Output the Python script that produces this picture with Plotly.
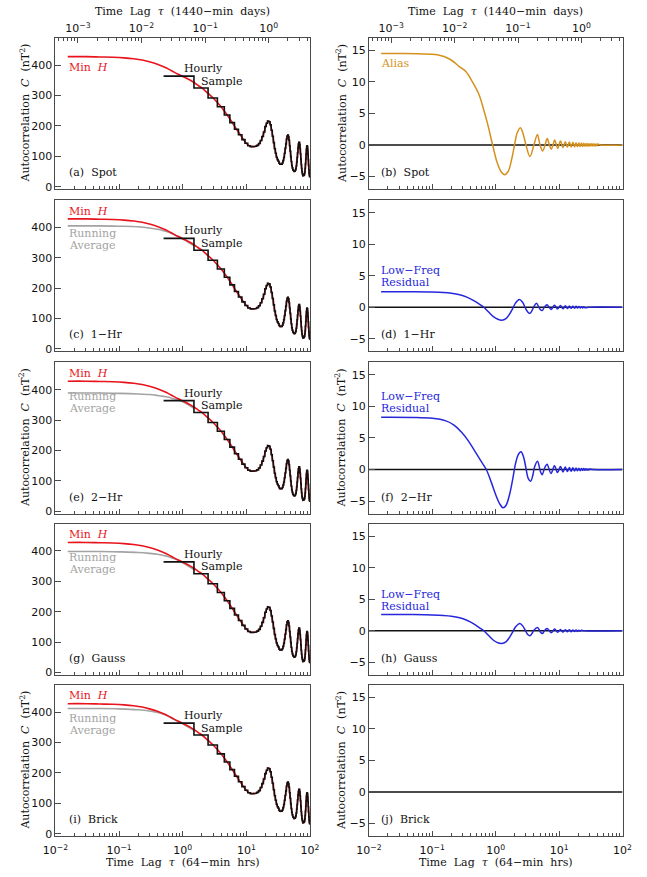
import plotly.graph_objects as go

# ------------------------------------------------------------------ data
# Minute-H autocorrelation (smooth, tau in 64-min hours)
RED_TAU = [0.0156, 0.03, 0.05, 0.08, 0.12, 0.17, 0.23, 0.3, 0.4, 0.5, 0.6, 0.72,
           0.85, 1.0, 1.15, 1.3, 1.5, 1.75, 2.0, 2.5, 3.0, 3.5, 4.0, 4.5, 5.0,
           6.0, 7.0, 8.0, 9.0, 10.0, 11.0]
RED_C = [428, 428, 427, 426, 424, 421, 417, 411, 403, 395, 387, 378,
         370, 363, 357, 351, 343, 333, 325, 307, 292, 277, 263, 249, 236,
         211, 189, 171, 155, 143, 135]

# Hourly sample values at lags n = 1..100
HOURLY_N = list(range(1, 101))
HOURLY_C = [364, 325, 292, 263, 236, 211, 189, 171, 155, 143,
            135, 132, 132, 133, 136, 142, 152, 165, 180, 198,
            209, 216, 214, 204, 186, 166, 145, 125, 110, 97,
            89, 84, 77, 74, 73, 74, 78, 86, 96, 110,
            126, 141, 157, 167, 170, 165, 153, 135, 117, 99,
            83, 70, 62, 56, 53, 51, 50, 51, 54, 59,
            68, 81, 96, 112, 128, 140, 146, 146, 138, 125,
            108, 90, 73, 60, 49, 43, 39, 36, 36, 36,
            38, 42, 49, 60, 75, 91, 108, 123, 132, 135,
            132, 121, 106, 89, 71, 56, 44, 36, 33, 33]

# Running averages (gray)
RA_1HR_TAU = [0.0156, 0.05, 0.1, 0.2, 0.3, 0.4, 0.5, 0.6, 0.72, 0.85, 1.0, 1.2, 1.5]
RA_1HR_C = [405, 405, 404, 402, 398, 394, 389, 384, 377, 370, 362, 352, 340]
RA_2HR_TAU = [0.0156, 0.05, 0.1, 0.2, 0.3, 0.4, 0.5, 0.6, 0.72, 0.85, 1.0, 1.2, 1.5]
RA_2HR_C = [389, 389, 388, 386, 384, 381, 378, 375, 370, 366, 360, 351, 339]
RA_GAUSS_TAU = [0.0156, 0.05, 0.1, 0.2, 0.3, 0.4, 0.5, 0.6, 0.72, 0.85, 1.0, 1.2, 1.5]
RA_GAUSS_C = [398, 398, 397, 395, 392, 389, 385, 381, 375, 369, 361, 351, 339]
RA_BRICK_TAU = [0.0156, 0.05, 0.1, 0.2, 0.3, 0.4, 0.5, 0.6, 0.72, 0.85, 1.0, 1.2, 1.5]
RA_BRICK_C = [412, 412, 411, 408, 404, 399, 393, 386, 377, 370, 362, 352, 340]

# Alias (panel b)
ALIAS_TAU = [0.0156, 0.03, 0.06, 0.12, 0.19, 0.27, 0.34, 0.43, 0.55, 0.65, 0.73,
             0.895, 1.04, 1.21, 1.38, 1.57, 1.8, 1.98, 2.17, 2.45, 2.74, 3.0,
             3.47, 4.0, 4.55, 5.0, 5.5, 6.0, 6.5, 7.0, 7.5, 8.0, 8.5,
             9.5, 10.5, 11.5, 12.5, 13.5, 14.5, 15.5, 16.5, 17.5, 18.5, 19.5,
             20.5, 21.5, 22.5, 23.5, 24.5, 25.5, 26.5, 27.5, 28.5, 29.5, 30.5,
             31.5, 32.5, 33.5, 34.5, 35.5, 36.5, 37.5, 38.5, 39.5, 40.5, 45.0, 100.0]
ALIAS_C = [14.5, 14.5, 14.47, 14.3, 13.6, 12.4, 11.6, 10.0, 7.9, 5.5, 3.7,
           0.0, -2.6, -4.2, -4.7, -4.2, -2.1, 0.0, 1.85, 2.75, 1.6, 0.0,
           -1.84, 0.0, 1.68, 0.0, -0.95, 0.0, 1.05, 0.0, -0.68, 0.0, 0.79,
           -0.53, 0.63, -0.42, 0.53, -0.37, 0.47, -0.33, 0.42, -0.30, 0.37, -0.27,
           0.33, -0.25, 0.30, -0.23, 0.27, -0.21, 0.25, -0.19, 0.23, -0.18, 0.21,
           -0.17, 0.19, -0.16, 0.18, -0.15, 0.17, -0.14, 0.16, -0.13, 0.15, 0.0, 0.0]

# Low-frequency residuals (panels d, f, h)
LFR_1HR_TAU = [0.0156, 0.05, 0.1, 0.15, 0.2, 0.27, 0.35, 0.45, 0.55, 0.65, 0.78,
               0.92, 1.08, 1.25, 1.45, 1.65, 1.85, 2.05, 2.35, 2.65, 2.9, 3.2,
               3.45, 3.75, 4.0, 4.4, 4.75, 5.0, 5.4, 5.75, 6.0, 6.45,
               7.45, 8.45, 9.45, 10.5, 11.5, 12.5, 13.5, 14.5, 15.5, 16.5, 17.5,
               18.5, 19.5, 20.5, 21.5, 22.5, 23.5, 24.5, 25.5, 30.0, 100.0]
LFR_1HR_C = [2.47, 2.46, 2.42, 2.34, 2.22, 1.98, 1.6, 1.05, 0.5, 0.0, -0.8,
             -1.5, -1.9, -2.05, -1.8, -1.1, -0.2, 0.65, 1.22, 0.8, 0.0, -0.75,
             -0.97, -0.5, 0.1, 0.63, 0.1, -0.3, -0.53, -0.1, 0.15, 0.4,
             -0.35, 0.32, -0.28, 0.27, -0.24, 0.22, -0.2, 0.19, -0.17, 0.16, -0.15,
             0.14, -0.13, 0.12, -0.11, 0.1, -0.1, 0.09, -0.08, 0.0, 0.0]

LFR_2HR_TAU = [0.0156, 0.05, 0.1, 0.16, 0.22, 0.29, 0.37, 0.46, 0.58, 0.71, 0.85,
               1.0, 1.15, 1.3, 1.45, 1.65, 1.85, 2.05, 2.25, 2.5, 2.75, 3.0,
               3.25, 3.55, 3.85, 4.1, 4.55, 4.9, 5.1, 5.4, 5.75, 6.0, 6.45,
               7.45, 8.45, 9.45, 10.5, 11.5, 12.5, 13.5, 14.5, 15.5, 16.5, 17.5,
               18.5, 19.5, 20.5, 21.5, 22.5, 23.5, 24.5, 25.5, 26.5, 27.5, 28.5,
               29.5, 30.5, 35.0, 100.0]
LFR_2HR_C = [8.3, 8.27, 8.12, 7.75, 7.05, 5.9, 4.55, 3.05, 1.4, 0.0, -2.0,
             -4.0, -5.4, -6.05, -5.7, -4.0, -1.6, 0.9, 2.3, 2.8, 2.0, 0.2,
             -1.4, -1.85, -0.9, 0.4, 1.3, 0.3, -0.4, -0.82, -0.1, 0.4, 0.85,
             -0.62, 0.6, -0.48, 0.46, -0.4, 0.38, -0.33, 0.31, -0.28, 0.27, -0.24,
             0.23, -0.21, 0.2, -0.18, 0.17, -0.15, 0.15, -0.13, 0.12, -0.11, 0.1,
             -0.09, 0.08, 0.0, 0.0]

LFR_GAUSS_TAU = [0.0156, 0.05, 0.1, 0.15, 0.2, 0.27, 0.35, 0.45, 0.55, 0.65, 0.78,
                 0.92, 1.08, 1.24, 1.45, 1.65, 1.85, 2.05, 2.4, 2.7, 2.95, 3.2,
                 3.45, 3.75, 4.0, 4.55, 4.9, 5.1, 5.45, 5.8, 6.0, 6.5,
                 7.5, 8.5, 9.5, 10.5, 11.5, 12.5, 13.5, 14.5, 15.5, 16.5, 17.5,
                 18.5, 19.5, 20.5, 21.5, 22.5, 25.0, 100.0]
LFR_GAUSS_C = [2.58, 2.57, 2.52, 2.44, 2.32, 2.06, 1.66, 1.1, 0.5, 0.0, -0.8,
               -1.5, -1.9, -2.0, -1.75, -1.05, -0.2, 0.6, 1.16, 0.7, 0.0, -0.6,
               -0.8, -0.4, 0.1, 0.53, 0.1, -0.25, -0.45, -0.05, 0.12, 0.36,
               -0.3, 0.27, -0.24, 0.22, -0.2, 0.18, -0.16, 0.15, -0.14, 0.13, -0.12,
               0.11, -0.1, 0.09, -0.08, 0.07, 0.0, 0.0]

PANEL_LABELS = ["(a)  Spot", "(b)  Spot", "(c)  1\u2212Hr", "(d)  1\u2212Hr",
                "(e)  2\u2212Hr", "(f)  2\u2212Hr", "(g)  Gauss", "(h)  Gauss",
                "(i)  Brick", "(j)  Brick"]
X_TICKS = [0.01, 0.1, 1, 10, 100]
X_TICK_TEXT = ["10<sup>\u22122</sup>", "10<sup>\u22121</sup>", "10<sup>0</sup>",
               "10<sup>1</sup>", "10<sup>2</sup>"]
DAY_TICKS = [0.001, 0.01, 0.1, 1]
DAY_TICK_TEXT = ["10<sup>\u22123</sup>", "10<sup>\u22122</sup>", "10<sup>\u22121</sup>",
                 "10<sup>0</sup>"]
LEFT_Y_TICKS = [0, 100, 200, 300, 400]
RIGHT_Y_TICKS = [-5, 0, 5, 10, 15]
HRS_PER_DAY = 1440 / 64

# ------------------------------------------------------------------ style
W, H = 647, 877
SERIF = "DejaVu Serif"
SANS = "DejaVu Sans"
RED = "#e8141c"
GRAY = "#a3a3a3"
BLACK = "#111111"
GOLD = "#d4911e"
BLUE = "#2626dc"
FRAME = "#4a4a4a"

LEFT_X = (44, 308)
RIGHT_X = (369, 632)
TOPS = [38, 201, 364, 526, 688]
PH = 152

fig = go.Figure()


def dom_x(px):
    return [px[0] / W, px[1] / W]


def dom_y(top):
    return [1 - (top + PH) / H, 1 - top / H]


def ann(xp, yp, text, color=BLACK, size=11, xanchor="left", angle=0, family=SERIF):
    fig.add_annotation(x=xp / W, y=1 - yp / H, xref="paper", yref="paper", text=text,
                       showarrow=False, xanchor=xanchor, yanchor="middle",
                       textangle=angle, borderpad=0,
                       font=dict(family=family, size=size, color=color))


step_x, step_y = [], []
for n, v in zip(HOURLY_N, HOURLY_C):
    step_x += [n - 0.5, n + 0.5]
    step_y += [v, v]
red_x = RED_TAU + HOURLY_N[11:]
red_y = RED_C + HOURLY_C[11:]

ra_sets = {1: (RA_1HR_TAU, RA_1HR_C), 2: (RA_2HR_TAU, RA_2HR_C),
           3: (RA_GAUSS_TAU, RA_GAUSS_C), 4: (RA_BRICK_TAU, RA_BRICK_C)}
right_sets = {0: (ALIAS_TAU, ALIAS_C, GOLD), 1: (LFR_1HR_TAU, LFR_1HR_C, BLUE),
              2: (LFR_2HR_TAU, LFR_2HR_C, BLUE), 3: (LFR_GAUSS_TAU, LFR_GAUSS_C, BLUE)}

layout = {}
for i in range(10):
    row, col = divmod(i, 2)
    k = i + 1
    xa = "x" if k == 1 else f"x{k}"
    ya = "y" if k == 1 else f"y{k}"
    xname = "xaxis" if k == 1 else f"xaxis{k}"
    yname = "yaxis" if k == 1 else f"yaxis{k}"
    top = TOPS[row]
    layout[xname] = dict(
        domain=dom_x(LEFT_X if col == 0 else RIGHT_X), anchor=ya, type="log",
        range=[-2, 2], showline=True, mirror=True, linecolor=FRAME, linewidth=1,
        ticks="inside", ticklen=5, tickcolor=FRAME, tickvals=X_TICKS,
        ticktext=X_TICK_TEXT, showticklabels=(row == 4), showgrid=False,
        zeroline=False, tickfont=dict(family=SANS, size=11, color=BLACK),
        ticklabelstandoff=4,
        minor=dict(ticks="inside", ticklen=3, tickcolor=FRAME, dtick="D1", showgrid=False))
    if col == 0:
        yr, yt = [-8, 490], LEFT_Y_TICKS
    else:
        yr, yt = [-7, 17], RIGHT_Y_TICKS
    layout[yname] = dict(
        domain=dom_y(top), anchor=xa, range=yr, showline=True, mirror=True,
        linecolor=FRAME, linewidth=1, ticks="inside", ticklen=6, tickcolor=FRAME,
        tickvals=yt, showgrid=False, zeroline=False,
        tickfont=dict(family=SANS, size=11, color=BLACK))

    if col == 0:
        if row in ra_sets:
            tx, ty = ra_sets[row]
            fig.add_trace(go.Scatter(x=tx, y=ty, mode="lines", xaxis=xa, yaxis=ya,
                                     line=dict(color=GRAY, width=1.6, shape="spline"),
                                     hoverinfo="skip"))
        fig.add_trace(go.Scatter(x=red_x, y=red_y, mode="lines", xaxis=xa, yaxis=ya,
                                 line=dict(color=RED, width=1.6, shape="spline"),
                                 hoverinfo="skip"))
        fig.add_trace(go.Scatter(x=step_x, y=step_y, mode="lines", xaxis=xa, yaxis=ya,
                                 line=dict(color=BLACK, width=1.6), hoverinfo="skip"))
    else:
        fig.add_trace(go.Scatter(x=[0.01, 100], y=[0, 0], mode="lines", xaxis=xa,
                                 yaxis=ya, line=dict(color=BLACK, width=1.4),
                                 hoverinfo="skip"))
        if row in right_sets:
            tx, ty, c = right_sets[row]
            fig.add_trace(go.Scatter(x=tx, y=ty, mode="lines", xaxis=xa, yaxis=ya,
                                     line=dict(color=c, width=1.5, shape="spline",
                                               smoothing=1.0),
                                     hoverinfo="skip"))

# top (days) axes on first row
for k, (base_x, base_y, px) in zip([11, 12], [("x", "y", LEFT_X), ("x2", "y2", RIGHT_X)]):
    layout[f"xaxis{k}"] = dict(
        domain=dom_x(px), anchor=base_y, overlaying=base_x, side="top", type="log",
        range=[-2 - 1.3522, 2 - 1.3522], showline=True, linecolor=FRAME, linewidth=1,
        ticks="inside", ticklen=5, tickcolor=FRAME, tickvals=DAY_TICKS,
        ticktext=DAY_TICK_TEXT, showgrid=False, zeroline=False,
        tickfont=dict(family=SANS, size=11, color=BLACK),
        minor=dict(ticks="inside", ticklen=3, tickcolor=FRAME, dtick="D1", showgrid=False))
    fig.add_trace(go.Scatter(x=[DAY_TICKS[0], DAY_TICKS[-1]], y=[1000, 1000], mode="markers",
                             xaxis=f"x{k}", yaxis=base_y, marker=dict(opacity=0),
                             hoverinfo="skip"))

fig.update_layout(**layout)

# ------------------------------------------------------------------ text
YTITLE = "Autocorrelation  <i>C</i>  (nT<sup>2</sup>)"
for row in [0, 2, 4]:
    cy = TOPS[row] + PH / 2
    ann(12.5, cy, YTITLE, angle=-90, xanchor="center")
    ann(340.5, cy, YTITLE, angle=-90, xanchor="center")

ann(176, 866, "Time  Lag  <i>\u03c4</i>  (64\u2212min  hrs)", xanchor="center")
ann(500.5, 866, "Time  Lag  <i>\u03c4</i>  (64\u2212min  hrs)", xanchor="center")
ann(176, 12, "Time  Lag  <i>\u03c4</i>  (1440\u2212min  days)", xanchor="center")
ann(500.5, 12, "Time  Lag  <i>\u03c4</i>  (1440\u2212min  days)", xanchor="center")

for i, lab in enumerate(PANEL_LABELS):
    row, col = divmod(i, 2)
    bottom = TOPS[row] + PH
    ann(57 if col == 0 else 381, bottom - 16.5, lab)

for row in range(5):
    top = TOPS[row]
    if row == 0:
        ann(57, top + 30, "Min  <i>H</i>", color=RED)
    else:
        ann(57, top + 11, "Min  <i>H</i>", color=RED)
        ann(57, top + 34, "Running", color=GRAY)
        ann(57, top + 46, "Average", color=GRAY)
    ann(176, top + 31, "Hourly")
    ann(194, top + 43.5, "Sample")

ann(381, TOPS[0] + 26, "Alias", color=GOLD)
for row, (o1, o2) in {1: (70.5, 82.5), 2: (34, 46.5), 3: (71, 83)}.items():
    ann(381, TOPS[row] + o1, "Low\u2212Freq", color=BLUE)
    ann(381, TOPS[row] + o2, "Residual", color=BLUE)

fig.update_layout(width=W, height=H, margin=dict(l=0, r=0, t=0, b=0),
                  paper_bgcolor="white", plot_bgcolor="white", showlegend=False)

fig.write_html("out.html")
